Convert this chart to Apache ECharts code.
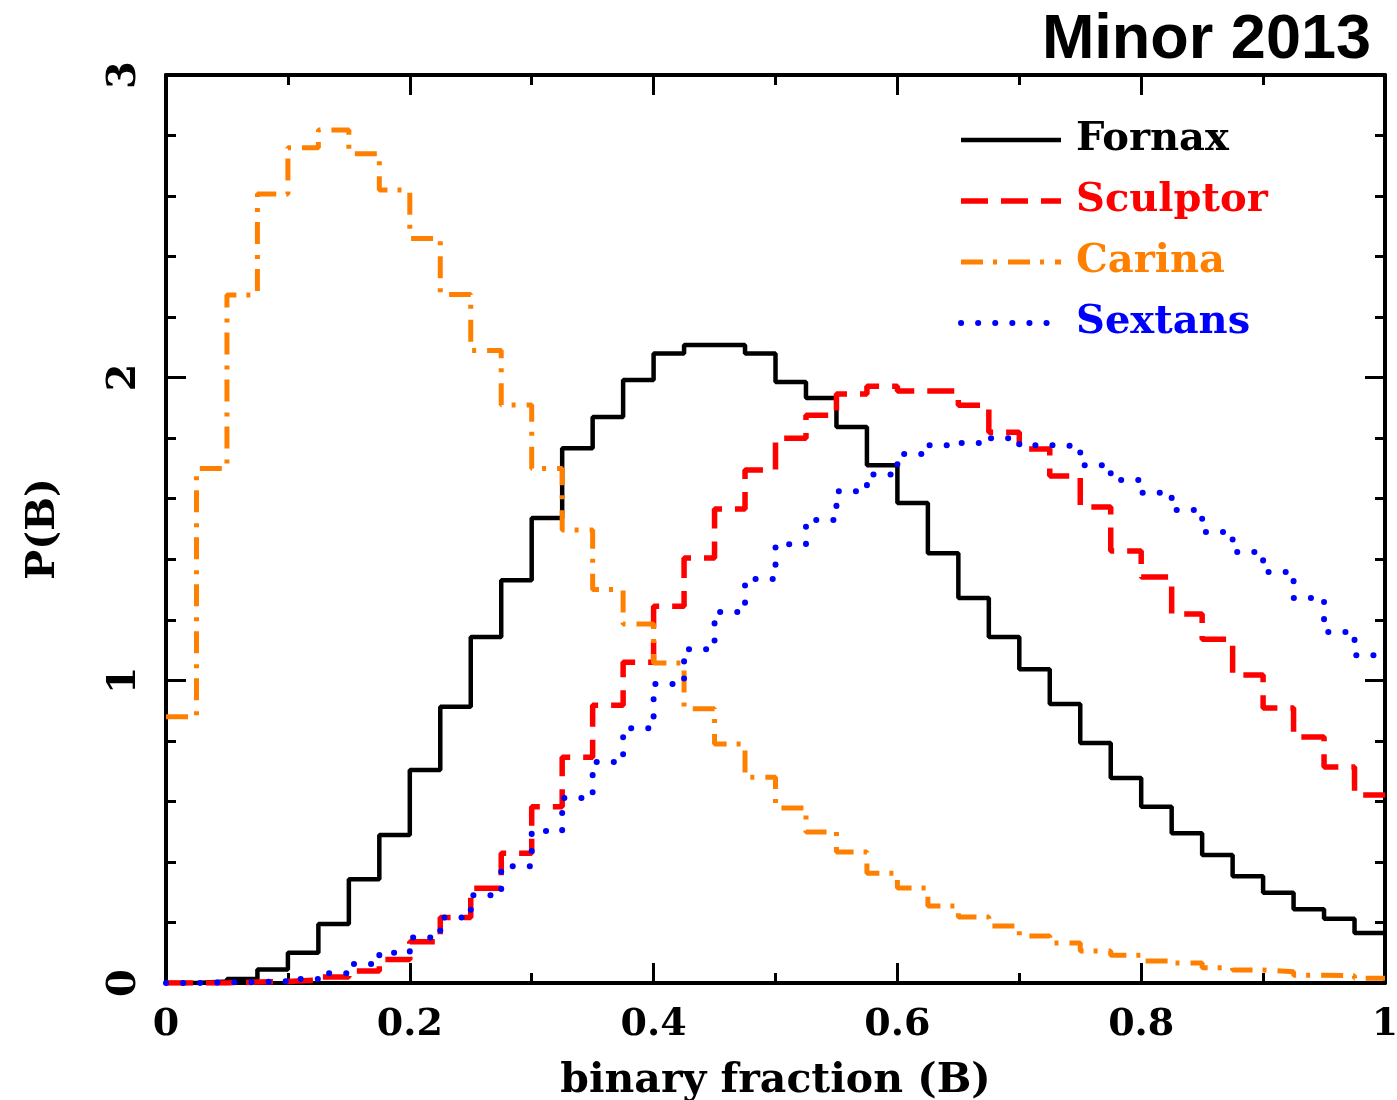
<!DOCTYPE html>
<html><head><meta charset="utf-8">
<script src="https://cdn.jsdelivr.net/npm/echarts@6/dist/echarts.min.js"></script>
<style>html,body{margin:0;padding:0;background:#fff}#c{width:1397px;height:1100px}</style>
</head><body><div id="c"></div>
<script>
const binWidth = 0.025;
const seriesNames = ['Fornax', 'Sculptor', 'Carina', 'Sextans'];
const fornax = [0, 0.005, 0.013, 0.045, 0.10, 0.195, 0.343, 0.489, 0.704, 0.913, 1.143, 1.331, 1.536, 1.767, 1.87, 1.992, 2.08, 2.108, 2.108, 2.08, 1.986, 1.933, 1.837, 1.711, 1.586, 1.42, 1.272, 1.143, 1.037, 0.922, 0.793, 0.677, 0.582, 0.495, 0.423, 0.353, 0.298, 0.244, 0.212, 0.165];
const sculptor = [0, 0, 0.003, 0.005, 0.01, 0.02, 0.04, 0.078, 0.136, 0.216, 0.313, 0.429, 0.582, 0.746, 0.918, 1.06, 1.245, 1.404, 1.566, 1.695, 1.80, 1.876, 1.946, 1.972, 1.956, 1.956, 1.909, 1.82, 1.764, 1.675, 1.573, 1.427, 1.341, 1.219, 1.136, 1.018, 0.909, 0.813, 0.714, 0.621];
const carina = [0.88, 1.70, 2.273, 2.607, 2.76, 2.818, 2.74, 2.62, 2.46, 2.275, 2.09, 1.91, 1.70, 1.497, 1.30, 1.186, 1.057, 0.906, 0.79, 0.68, 0.578, 0.499, 0.433, 0.363, 0.314, 0.254, 0.218, 0.188, 0.155, 0.132, 0.106, 0.092, 0.073, 0.066, 0.05, 0.043, 0.037, 0.026, 0.024, 0.016];
const sextans = [0, 0.002, 0.003, 0.006, 0.013, 0.032, 0.063, 0.10, 0.15, 0.216, 0.29, 0.386, 0.502, 0.611, 0.73, 0.842, 0.988, 1.103, 1.226, 1.335, 1.45, 1.53, 1.625, 1.68, 1.748, 1.777, 1.784, 1.80, 1.777, 1.774, 1.711, 1.662, 1.62, 1.563, 1.49, 1.424, 1.358, 1.272, 1.16, 1.083];

function histPoints(vals) {
  const pts = vals.map((v, i) => [+(i * binWidth).toFixed(4), v]);
  pts.push([+(vals.length * binWidth).toFixed(4), vals[vals.length - 1]]);
  return pts;
}

const SERIF = '"DejaVu Serif", serif';
const colors = {Fornax: '#000000', Sculptor: '#ff0000', Carina: '#ff8000', Sextans: '#0000ff'};
const styles = {
  Fornax: {width: 4.5, type: 'solid'},
  Sculptor: {width: 5.5, type: [27, 13]},
  Carina: {width: 5, type: [22, 10, 4, 11]},
  Sextans: {width: 6, type: [0.1, 17], cap: 'round'}
};
const dataMap = {Fornax: fornax, Sculptor: sculptor, Carina: carina, Sextans: sextans};

const tickStyle = {show: true, inside: true, length: 20, lineStyle: {color: '#000', width: 3}};
const minorStyle = {show: true, length: 10, lineStyle: {color: '#000', width: 3}};
const lineStyleAxis = {show: true, onZero: false, lineStyle: {color: '#000', width: 4}};

const chart = echarts.init(document.getElementById('c'));
chart.setOption({
  animation: false,
  backgroundColor: '#fff',
  title: {
    text: 'Minor 2013', right: 21, top: 4,
    textStyle: {fontFamily: '"Liberation Sans", Arial, sans-serif', fontWeight: 'bold', fontSize: 63, color: '#000'}
  },
  legend: {
    orient: 'vertical', left: 958, top: 120, padding: 0,
    itemWidth: 100, itemHeight: 40, itemGap: 21,
    textStyle: {fontFamily: SERIF, fontWeight: 'bold', fontSize: 40, padding: [0, 0, 0, 10]},
    data: seriesNames.map(n => ({
      name: n,
      textStyle: {color: colors[n]},
      itemStyle: {color: 'rgba(0,0,0,0)', borderWidth: 0, opacity: 0},
      lineStyle: Object.assign({color: colors[n]}, styles[n])
    }))
  },
  grid: {left: 166, top: 75, right: 12, bottom: 117, outerBoundsMode: 'none', containLabel: false},
  xAxis: [{
    type: 'value', min: 0, max: 1, interval: 0.2,
    name: 'binary fraction (B)', nameLocation: 'middle', nameGap: 78,
    nameTextStyle: {fontFamily: SERIF, fontWeight: 'bold', fontSize: 41, color: '#000'},
    axisLine: lineStyleAxis, axisTick: tickStyle,
    minorTick: Object.assign({splitNumber: 2}, minorStyle),
    splitLine: {show: false},
    axisLabel: {margin: 23, fontFamily: SERIF, fontWeight: 'bold', fontSize: 38, color: '#000'}
  }, {
    type: 'value', min: 0, max: 1, interval: 0.2, position: 'top',
    axisLine: lineStyleAxis, axisTick: tickStyle,
    minorTick: Object.assign({splitNumber: 2}, minorStyle),
    splitLine: {show: false}, axisLabel: {show: false}
  }],
  yAxis: [{
    type: 'value', min: 0, max: 3, interval: 1,
    name: 'P(B)', nameLocation: 'middle', nameGap: 102, nameRotate: 90,
    nameTextStyle: {fontFamily: SERIF, fontWeight: 'bold', fontSize: 40, color: '#000'},
    axisLine: lineStyleAxis, axisTick: tickStyle,
    minorTick: Object.assign({splitNumber: 5}, minorStyle),
    splitLine: {show: false},
    axisLabel: {margin: 21, rotate: 90, fontFamily: SERIF, fontWeight: 'bold', fontSize: 40, color: '#000'}
  }, {
    type: 'value', min: 0, max: 3, interval: 1, position: 'right',
    axisLine: lineStyleAxis, axisTick: tickStyle,
    minorTick: Object.assign({splitNumber: 5}, minorStyle),
    splitLine: {show: false}, axisLabel: {show: false}
  }],
  series: seriesNames.map(n => ({
    name: n, type: 'line', step: 'end', symbol: 'none',
    xAxisIndex: 0, yAxisIndex: 0,
    data: histPoints(dataMap[n]),
    itemStyle: {color: colors[n]},
    lineStyle: Object.assign({color: colors[n]}, styles[n])
  }))
});
</script></body></html>
